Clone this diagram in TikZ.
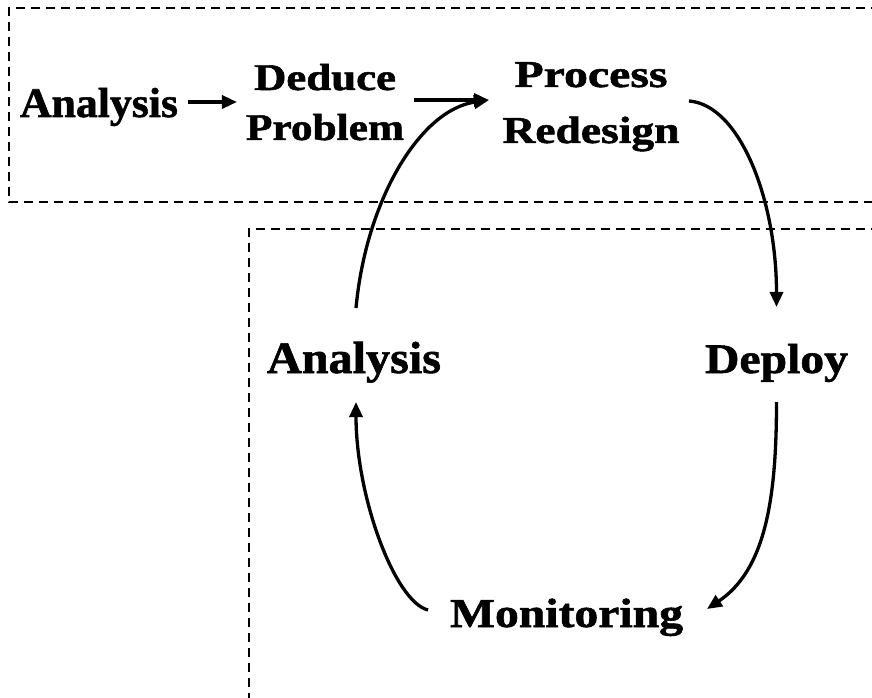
\documentclass[tikz,border=0pt]{standalone}
\usepackage{fontspec}
\usepackage{graphicx}
\setmainfont{Liberation Serif}[BoldFeatures={FakeBold=1.3}]
\usetikzlibrary{arrows.meta,calc}
\newcommand\fitw[3]{\resizebox{#1pt}{\height}{\fontsize{#2pt}{#2pt}\selectfont\bfseries #3}}
\newcommand\twoline[3]{\vtop{\baselineskip=#1pt\lineskiplimit=-1000pt\lineskip=0pt\halign{\hfil##\hfil\cr#2\cr#3\cr}}}
\tikzset{
  lbl/.style={inner sep=0pt, outer sep=0pt, text depth=0pt, anchor=base west},
  lbltwo/.style={inner sep=0pt, outer sep=0pt, anchor=base},
  arr/.style={line width=3.3pt, -{Triangle[length=15pt,width=13pt]}},
  dbox/.style={line width=1.4pt, dash pattern=on 9pt off 6pt}
}
\begin{document}
\begin{tikzpicture}[x=1pt,y=1pt]
\clip (0,0) rectangle (872,697);
\fill[white] (0,0) rectangle (872,697);
% dashed frames
\draw[dbox] (880,689) -- (9,689) -- (9,495) -- (880,495);
\draw[dbox] (880,468) -- (249,468) -- (249,-5);
% nodes
\node[lbl, text height=28pt] (a1) at (20,580) {\fitw{158}{42}{Analysis}};
\node[lbltwo, text height=25pt, text depth=50pt] (dp) at (325,607)
  {\twoline{50}{\fitw{142}{37.8}{Deduce}}{\fitw{158}{37.8}{Problem}}};
\node[lbltwo, text height=25pt, text depth=56pt] (pr) at (591,610)
  {\twoline{56}{\fitw{153}{38}{Process}}{\fitw{177}{38}{Redesign}}};
\node[lbl, text height=30pt] (a2) at (267,324) {\fitw{174}{45}{Analysis}};
\node[lbl, text height=28pt] (de) at (705,324) {\fitw{143}{42}{Deploy}};
\node[lbl, text height=27pt] (mo) at (450,70) {\fitw{233}{41}{Monitoring}};
% connectors
\draw[arr] ($(a1.east)+(10,1)$) -- ($(dp.west)+(-9,0.5)$);
\draw[arr] ($(dp.east)+(10,2.5)$) -- ($(pr.west)+(-13.5,2.5)$);
\draw[arr] ($(a2.north)+(2,35)$) .. controls +(10,108) and +(-69,-10) .. ($(pr.west)+(-13.5,2.5)$);
\draw[arr] ($(pr.east)+(9.5,1.5)$) .. controls +(51,-4) and +(0,107) .. ($(de.north)+(0,38)$);
\draw[arr] ($(de.south)+(0,-29)$) .. controls +(0,-98) and +(58,39) .. ($(mo.east)+(24,4.5)$);
\draw[arr] ($(mo.west)+(-22,3.5)$) .. controls +(-33,8) and +(0,-95) .. ($(a2.south)+(2,-29)$);
\end{tikzpicture}
\end{document}
